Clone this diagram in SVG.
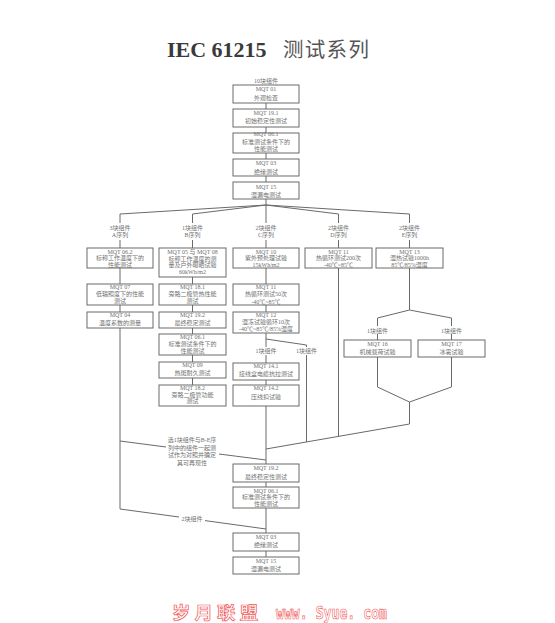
<svg xmlns="http://www.w3.org/2000/svg" width="555" height="623" viewBox="0 0 555 623">
<style>
.bx{fill:#fff;stroke:#6a6a6a;stroke-width:1}
.t{font-family:"Liberation Serif","Noto Sans CJK SC",serif;font-size:6px;fill:#707070;text-anchor:middle}
.ln{stroke:#6a6a6a;stroke-width:1;fill:none}
.wm{fill:#fff;stroke:#f05858;stroke-width:0.7;font-weight:bold}
</style>
<rect width="555" height="623" fill="#fff"/>
<g id="title">
<text x="167" y="57" font-family="Liberation Serif,serif" font-weight="bold" font-size="22" fill="#3a3a3a">IEC 61215</text>
<text x="283" y="57" font-family="Noto Sans CJK SC,sans-serif" font-size="20.5" letter-spacing="1.3" fill="#555">测试系列</text>
</g>
<g id="connectors" class="ln">
<path d="M266 103V109M266 127V133M266 153V159M266 176V182M266 199V223"/>
<path d="M266 205L120 214V223M266 205L192.5 214V223M266 205L338.5 214V223M266 205L409.5 214V223"/>
<path d="M120 240V248M192.5 240V248M266 240V248M338.5 240V248M409.5 240V248"/>
<path d="M120 268V284M120 305V312M120 328V509"/>
<path d="M120 441L166 447M219 454L266 460"/>
<path d="M120 509L179 517M205 520.6L266 529"/>
<path d="M192.5 277V284M192.5 305V312M192.5 328V334M192.5 355V362M192.5 378V385"/>
<path d="M266 268V284M266 305V312M266 333V347M266 355V363M266 380V385M266 406V464M266 482V487M266 508V533M266 551V557"/>
<path d="M266 339L306.5 345V347M306.5 355V442"/>
<path d="M338.5 268V436.5"/>
<path d="M409.5 268V310L377.5 318V326M409.5 310L451.5 318V326M377.5 334V340M451.5 334V340"/>
<path d="M377.5 357V387L409.5 402M451.5 357V387L409.5 402M409.5 402V424L266 449"/>
</g>
<g id="n_top_label"><text class="t" x="266" y="82.7">10块组件</text></g>
<g id="n_mqt01"><rect class="bx" x="233" y="85" width="66" height="18"/><text class="t" x="266" y="91.3">MQT 01</text><text class="t" x="266" y="100.3">外观检查</text></g>
<g id="n_mqt19_1"><rect class="bx" x="233" y="109" width="66" height="18"/><text class="t" x="266" y="114.7">MQT 19.1</text><text class="t" x="266" y="123">初始稳定性测试</text></g>
<g id="n_mqt06_1a"><rect class="bx" x="233" y="133" width="66" height="20"/><text class="t" x="266" y="136.3">MQT 06.1</text><text class="t" x="266" y="143.7">标准测试条件下的</text><text class="t" x="266" y="151">性能测试</text></g>
<g id="n_mqt03a"><rect class="bx" x="233" y="159" width="66" height="17"/><text class="t" x="266" y="165.3">MQT 03</text><text class="t" x="266" y="173.7">绝缘测试</text></g>
<g id="n_mqt15a"><rect class="bx" x="233" y="182" width="66" height="17"/><text class="t" x="266" y="188.7">MQT 15</text><text class="t" x="266" y="197">湿漏电测试</text></g>
<g id="lbl_a"><text class="t" x="120" y="230.3">3块组件</text><text class="t" x="120" y="237.3">A序列</text></g>
<g id="lbl_b"><text class="t" x="192.5" y="230.3">1块组件</text><text class="t" x="192.5" y="237.3">B序列</text></g>
<g id="lbl_c"><text class="t" x="266" y="230.3">2块组件</text><text class="t" x="266" y="237.3">C序列</text></g>
<g id="lbl_d"><text class="t" x="338.5" y="230.3">2块组件</text><text class="t" x="338.5" y="237.3">D序列</text></g>
<g id="lbl_e"><text class="t" x="409.5" y="230.3">2块组件</text><text class="t" x="409.5" y="237.3">E序列</text></g>
<g id="a1"><rect class="bx" x="87" y="248" width="66" height="20"/><text class="t" x="120" y="253.5">MQT 06.2</text><text class="t" x="120" y="260">标称工作温度下的</text><text class="t" x="120" y="266.5">性能测试</text></g>
<g id="a2"><rect class="bx" x="87" y="284" width="66" height="21"/><text class="t" x="120" y="288.7">MQT 07</text><text class="t" x="120" y="296">低辐照度下的性能</text><text class="t" x="120" y="303">测试</text></g>
<g id="a3"><rect class="bx" x="87" y="312" width="66" height="16"/><text class="t" x="120" y="317">MQT 04</text><text class="t" x="120" y="324.7">温度系数的测量</text></g>
<g id="b1"><rect class="bx" x="159" y="248" width="67" height="29"/><text class="t" x="192.5" y="254">MQT 05 与 MQT 08</text><text class="t" x="192.5" y="260.5">标称工作温度的测</text><text class="t" x="192.5" y="267">量及户外曝晒试验</text><text class="t" x="192.5" y="274">60kWh/m2</text></g>
<g id="b2"><rect class="bx" x="159" y="284" width="67" height="21"/><text class="t" x="192.5" y="288.7">MQT 18.1</text><text class="t" x="192.5" y="296">旁路二极管热性能</text><text class="t" x="192.5" y="303">测试</text></g>
<g id="b3"><rect class="bx" x="159" y="312" width="67" height="16"/><text class="t" x="192.5" y="317">MQT 19.2</text><text class="t" x="192.5" y="324.7">最终稳定测试</text></g>
<g id="b4"><rect class="bx" x="159" y="334" width="67" height="21"/><text class="t" x="192.5" y="339">MQT 06.1</text><text class="t" x="192.5" y="346">标准测试条件下的</text><text class="t" x="192.5" y="353">性能测试</text></g>
<g id="b5"><rect class="bx" x="159" y="362" width="67" height="16"/><text class="t" x="192.5" y="367">MQT 09</text><text class="t" x="192.5" y="375.3">热斑耐久测试</text></g>
<g id="b6"><rect class="bx" x="159" y="385" width="67" height="21"/><text class="t" x="192.5" y="390.3">MQT 18.2</text><text class="t" x="192.5" y="396.7">旁路二极管功能</text><text class="t" x="192.5" y="403">测试</text></g>
<g id="c1"><rect class="bx" x="233" y="248" width="66" height="20"/><text class="t" x="266" y="253.5">MQT 10</text><text class="t" x="266" y="260.2">紫外预处理试验</text><text class="t" x="266" y="266.8">15kWh/m2</text></g>
<g id="c2"><rect class="bx" x="233" y="284" width="66" height="21"/><text class="t" x="266" y="289.3">MQT 11</text><text class="t" x="266" y="296">热循环测试50次</text><text class="t" x="266" y="303.5">-40℃~85℃</text></g>
<g id="c3"><rect class="bx" x="233" y="312" width="66" height="21"/><text class="t" x="266" y="317">MQT 12</text><text class="t" x="266" y="323.7">湿冻试验循环10次</text><text class="t" x="266" y="331">-40℃~85℃/85%湿度</text></g>
<g id="lbl_c1"><text class="t" x="266" y="353">1块组件</text></g>
<g id="lbl_c2"><text class="t" x="306.5" y="353">1块组件</text></g>
<g id="c4"><rect class="bx" x="233" y="363" width="66" height="17"/><text class="t" x="266" y="368">MQT 14.1</text><text class="t" x="266" y="376.3">接线盒电缆抗拉测试</text></g>
<g id="c5"><rect class="bx" x="233" y="385" width="66" height="21"/><text class="t" x="266" y="390.3">MQT 14.2</text><text class="t" x="266" y="398.7">压线扣试验</text></g>
<g id="d1"><rect class="bx" x="305" y="248" width="67" height="20"/><text class="t" x="338.5" y="253.5">MQT 11</text><text class="t" x="338.5" y="260">热循环测试200次</text><text class="t" x="338.5" y="266.7">-40℃~85℃</text></g>
<g id="e1"><rect class="bx" x="376" y="248" width="67" height="20"/><text class="t" x="409.5" y="253.5">MQT 13</text><text class="t" x="409.5" y="260">湿热试验1000h</text><text class="t" x="409.5" y="266.7">85℃/85%湿度</text></g>
<g id="lbl_e1"><text class="t" x="377.5" y="332.5">1块组件</text></g>
<g id="lbl_e2"><text class="t" x="451.5" y="332.5">1块组件</text></g>
<g id="e2"><rect class="bx" x="344" y="340" width="67" height="17"/><text class="t" x="377.5" y="346">MQT 16</text><text class="t" x="377.5" y="354.3">机械载荷试验</text></g>
<g id="e3"><rect class="bx" x="418" y="340" width="67" height="17"/><text class="t" x="451.5" y="346">MQT 17</text><text class="t" x="451.5" y="354.3">冰雹试验</text></g>
<g id="lbl_control"><text class="t" x="192" y="442">选1块组件与B-E序</text><text class="t" x="192" y="449.5">列中的组件一起测</text><text class="t" x="192" y="457">试作为对照并确定</text><text class="t" x="192" y="464.5">其可再现性</text></g>
<g id="n1"><rect class="bx" x="233" y="464" width="66" height="18"/><text class="t" x="266" y="469.5">MQT 19.2</text><text class="t" x="266" y="478.7">最终稳定性测试</text></g>
<g id="n2"><rect class="bx" x="233" y="487" width="66" height="21"/><text class="t" x="266" y="492.5">MQT 06.1</text><text class="t" x="266" y="499">标准测试条件下的</text><text class="t" x="266" y="505.5">性能测试</text></g>
<g id="lbl_2"><text class="t" x="192" y="521">2块组件</text></g>
<g id="n3"><rect class="bx" x="233" y="533" width="66" height="18"/><text class="t" x="266" y="538.7">MQT 03</text><text class="t" x="266" y="547">绝缘测试</text></g>
<g id="n4"><rect class="bx" x="233" y="557" width="66" height="17"/><text class="t" x="266" y="562.7">MQT 15</text><text class="t" x="266" y="571.3">湿漏电测试</text></g>
<g id="watermark">
<text class="wm" x="172" y="619" font-family="Noto Sans CJK SC,sans-serif" font-size="17" textLength="86" lengthAdjust="spacingAndGlyphs">岁 月 联 盟</text>
<text class="wm" x="276" y="619" font-family="DejaVu Sans Mono,monospace" font-size="18" textLength="111" lengthAdjust="spacingAndGlyphs">www. Syue. com</text>
</g>
</svg>
